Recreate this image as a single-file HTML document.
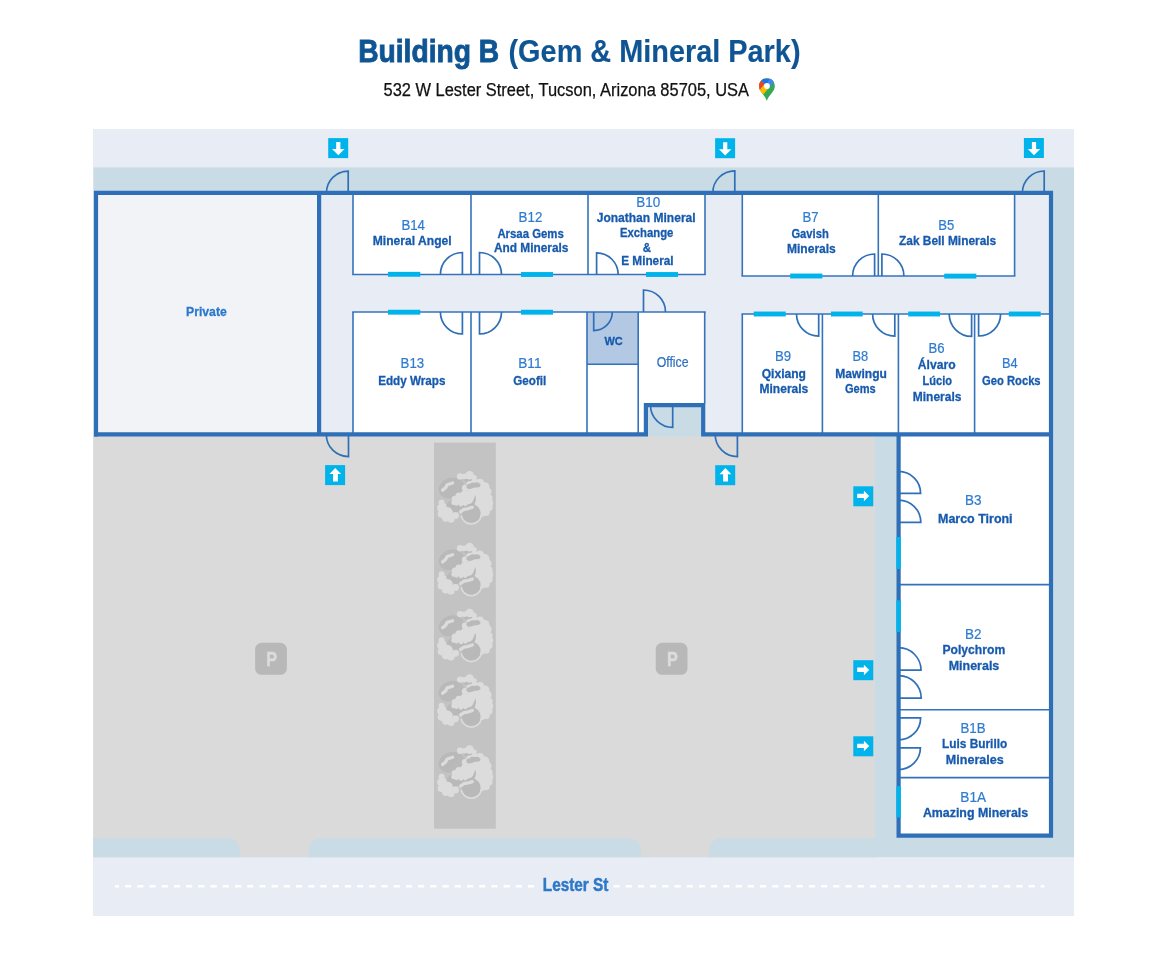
<!DOCTYPE html><html><head><meta charset="utf-8"><title>Building B</title><style>html,body{margin:0;padding:0;background:#fff;width:1150px;height:961px;overflow:hidden}svg{display:block;will-change:transform}text{font-family:"Liberation Sans",sans-serif}</style></head><body>
<svg width="1150" height="961" viewBox="0 0 1150 961">
<text x="358.2" y="61.9" font-size="32" font-weight="bold" fill="#0f5593" stroke="#0f5593" stroke-width="0.9" textLength="141" lengthAdjust="spacingAndGlyphs">Building B</text>
<text x="508.5" y="61.9" font-size="32" font-weight="bold" fill="#0f5593" stroke="#0f5593" stroke-width="0.15" textLength="292" lengthAdjust="spacingAndGlyphs">(Gem &amp; Mineral Park)</text>
<text x="383.5" y="96" font-size="17.5" fill="#111" stroke="#111" stroke-width="0.25" textLength="365.5" lengthAdjust="spacingAndGlyphs">532 W Lester Street, Tucson, Arizona 85705, USA</text>
<defs><clipPath id="pinclip"><path d="M7.9 0 C3.5 0 0 3.5 0 7.9 C0 10.9 1.4 12.9 3.1 15.1 C4.9 17.4 6.9 19.7 7.8 22.7 C8.8 19.7 10.8 17.4 12.6 15.1 C14.4 12.9 15.8 10.9 15.8 7.9 C15.8 3.5 12.3 0 7.9 0Z"/></clipPath></defs>
<g transform="translate(759,78.2)"><g clip-path="url(#pinclip)"><rect x="-1" y="-1" width="18" height="26" fill="#34a853"/><path d="M-1 22.2 L17 1.5 L17 -1 L-1 -1Z" fill="#fbbc04"/><path d="M-1 -0.7 L5.6 5.9 L-1 13.8Z" fill="#ea4335"/><path d="M-1 -0.7 L9.64 9.94 L17 1.5 L17 -1 L-1 -1Z" fill="#1a73e8"/><path d="M8 7.8 L9.64 9.94 L17 1.5 L17 -1 L10.5 -1Z" fill="#4285f4"/></g><circle cx="8" cy="7.8" r="2.9" fill="#fff"/></g>
<rect x="93" y="129" width="981" height="787" fill="#e8edf5"/>
<rect x="93.5" y="167.4" width="980.5" height="689.8" fill="#c9dbe5"/>
<rect x="93.5" y="436" width="781.5" height="421.2" fill="#dadada"/>
<path d="M93.5 857.2 V838.3 H227.6 A12 12 0 0 1 239.6 850.3 V857.2Z" fill="#c9dbe5"/>
<path d="M308.5 857.2 V850.3 A12 12 0 0 1 320.5 838.3 H629 A12 12 0 0 1 641 850.3 V857.2Z" fill="#c9dbe5"/>
<path d="M709.3 857.2 V850.3 A12 12 0 0 1 721.3 838.3 H875.5 V857.2Z" fill="#c9dbe5"/>
<line x1="115" y1="886.2" x2="1044.3" y2="886.2" stroke="#fff" stroke-width="2.6" stroke-dasharray="6.1 6.11" stroke-dashoffset="2.1"/>
<rect x="536" y="876" width="76" height="20" fill="#e8edf5"/>
<text x="542.8" y="891" font-size="17.5" font-weight="bold" fill="#2e78c8" stroke="#2e78c8" stroke-width="0.45" textLength="65.5" lengthAdjust="spacingAndGlyphs">Lester St</text>
<rect x="434" y="442.6" width="61.8" height="386.1" fill="#c3c3c3"/>
<g transform="translate(436.0,469.1)"><ellipse cx="15.4" cy="18.9" rx="13" ry="10.2" transform="rotate(-18 15.4 18.9)" fill="#b9b9b9"/><ellipse cx="25" cy="35" rx="14.5" ry="7.5" transform="rotate(-12 25 35)" fill="#b9b9b9"/><ellipse cx="34" cy="11" rx="6" ry="2.5" fill="#b9b9b9"/><circle cx="24.1" cy="7.3" r="3.2" fill="#dcdcdc"/><circle cx="28.6" cy="7.4" r="2.8" fill="#dcdcdc"/><circle cx="33.6" cy="6.2" r="4.3" fill="#dcdcdc"/><circle cx="38.2" cy="8.6" r="2.6" fill="#dcdcdc"/><circle cx="29.2" cy="19" r="3.4" fill="#dcdcdc"/><circle cx="33.8" cy="15.4" r="3.5" fill="#dcdcdc"/><circle cx="38.6" cy="13.8" r="3.8" fill="#dcdcdc"/><circle cx="44" cy="14" r="4.3" fill="#dcdcdc"/><circle cx="48.9" cy="17.7" r="4.5" fill="#dcdcdc"/><circle cx="51.2" cy="22.6" r="4.4" fill="#dcdcdc"/><circle cx="53" cy="29" r="3.6" fill="#dcdcdc"/><circle cx="53.6" cy="33.8" r="3.6" fill="#dcdcdc"/><circle cx="53" cy="38.6" r="3.6" fill="#dcdcdc"/><circle cx="50.2" cy="43.2" r="3.6" fill="#dcdcdc"/><circle cx="45.6" cy="44.6" r="3.2" fill="#dcdcdc"/><circle cx="5.6" cy="33.4" r="3" fill="#dcdcdc"/><circle cx="4.9" cy="38.8" r="3.8" fill="#dcdcdc"/><circle cx="5.5" cy="44.8" r="3.8" fill="#dcdcdc"/><circle cx="9.8" cy="48.8" r="3.8" fill="#dcdcdc"/><circle cx="15" cy="50" r="3.6" fill="#dcdcdc"/><circle cx="19.5" cy="46.5" r="3.4" fill="#dcdcdc"/><circle cx="11.2" cy="43.6" r="5.6" fill="#dcdcdc"/><circle cx="7.5" cy="37.5" r="3" fill="#dcdcdc"/><circle cx="18.9" cy="29.8" r="3.2" fill="#dcdcdc"/><circle cx="22.9" cy="27" r="3.5" fill="#dcdcdc"/><circle cx="28.4" cy="25" r="3.6" fill="#dcdcdc"/><circle cx="33.8" cy="24.4" r="3.6" fill="#dcdcdc"/><circle cx="38.4" cy="25.4" r="3" fill="#dcdcdc"/><circle cx="17.8" cy="33.4" r="2.5" fill="#dcdcdc"/><ellipse cx="41.5" cy="24" rx="10" ry="8.5" fill="#dcdcdc"/><ellipse cx="46" cy="34" rx="7.5" ry="10" fill="#dcdcdc"/><ellipse cx="27.5" cy="31" rx="10.5" ry="4.8" fill="#dcdcdc"/><circle cx="20.5" cy="34.5" r="2.2" fill="#dcdcdc"/><circle cx="25" cy="35.2" r="2.2" fill="#dcdcdc"/><circle cx="29.5" cy="34.8" r="2.2" fill="#dcdcdc"/><path d="M39.2 26 C40.8 29.5 40 33.5 37 37 L33.5 36.5 C36.8 33.5 38 30 39.2 26Z" fill="#b9b9b9"/><path d="M25.2 46.5 A10.3 10.3 0 0 0 45.4 46.5" fill="none" stroke="#dcdcdc" stroke-width="1.6"/><circle cx="35.3" cy="44.2" r="9.3" fill="#b9b9b9"/><path d="M30.5 18.5 C29.8 16.5 31.5 14.8 33.5 15 C34.5 13.6 36.8 13 38.4 13.8 C40.2 12.8 42.8 13.2 44 14.8 C45.2 16.4 44 18.2 42 18.2 C40 18.6 38.5 18.2 37 19 C35 20.2 31.8 20.4 30.5 18.5Z" fill="#b9b9b9"/><polyline points="6.6,21 9.6,18.6 11.2,15.6 16.6,13.9" fill="none" stroke="#dcdcdc" stroke-width="3.3" stroke-linecap="round" stroke-linejoin="round"/><polyline points="24.6,42.6 28,40.3 31.2,39.8 36.4,38.2" fill="none" stroke="#dcdcdc" stroke-width="3.2" stroke-linecap="round" stroke-linejoin="round"/></g>
<g transform="translate(436.0,540.9)"><ellipse cx="15.4" cy="18.9" rx="13" ry="10.2" transform="rotate(-18 15.4 18.9)" fill="#b9b9b9"/><ellipse cx="25" cy="35" rx="14.5" ry="7.5" transform="rotate(-12 25 35)" fill="#b9b9b9"/><ellipse cx="34" cy="11" rx="6" ry="2.5" fill="#b9b9b9"/><circle cx="24.1" cy="7.3" r="3.2" fill="#dcdcdc"/><circle cx="28.6" cy="7.4" r="2.8" fill="#dcdcdc"/><circle cx="33.6" cy="6.2" r="4.3" fill="#dcdcdc"/><circle cx="38.2" cy="8.6" r="2.6" fill="#dcdcdc"/><circle cx="29.2" cy="19" r="3.4" fill="#dcdcdc"/><circle cx="33.8" cy="15.4" r="3.5" fill="#dcdcdc"/><circle cx="38.6" cy="13.8" r="3.8" fill="#dcdcdc"/><circle cx="44" cy="14" r="4.3" fill="#dcdcdc"/><circle cx="48.9" cy="17.7" r="4.5" fill="#dcdcdc"/><circle cx="51.2" cy="22.6" r="4.4" fill="#dcdcdc"/><circle cx="53" cy="29" r="3.6" fill="#dcdcdc"/><circle cx="53.6" cy="33.8" r="3.6" fill="#dcdcdc"/><circle cx="53" cy="38.6" r="3.6" fill="#dcdcdc"/><circle cx="50.2" cy="43.2" r="3.6" fill="#dcdcdc"/><circle cx="45.6" cy="44.6" r="3.2" fill="#dcdcdc"/><circle cx="5.6" cy="33.4" r="3" fill="#dcdcdc"/><circle cx="4.9" cy="38.8" r="3.8" fill="#dcdcdc"/><circle cx="5.5" cy="44.8" r="3.8" fill="#dcdcdc"/><circle cx="9.8" cy="48.8" r="3.8" fill="#dcdcdc"/><circle cx="15" cy="50" r="3.6" fill="#dcdcdc"/><circle cx="19.5" cy="46.5" r="3.4" fill="#dcdcdc"/><circle cx="11.2" cy="43.6" r="5.6" fill="#dcdcdc"/><circle cx="7.5" cy="37.5" r="3" fill="#dcdcdc"/><circle cx="18.9" cy="29.8" r="3.2" fill="#dcdcdc"/><circle cx="22.9" cy="27" r="3.5" fill="#dcdcdc"/><circle cx="28.4" cy="25" r="3.6" fill="#dcdcdc"/><circle cx="33.8" cy="24.4" r="3.6" fill="#dcdcdc"/><circle cx="38.4" cy="25.4" r="3" fill="#dcdcdc"/><circle cx="17.8" cy="33.4" r="2.5" fill="#dcdcdc"/><ellipse cx="41.5" cy="24" rx="10" ry="8.5" fill="#dcdcdc"/><ellipse cx="46" cy="34" rx="7.5" ry="10" fill="#dcdcdc"/><ellipse cx="27.5" cy="31" rx="10.5" ry="4.8" fill="#dcdcdc"/><circle cx="20.5" cy="34.5" r="2.2" fill="#dcdcdc"/><circle cx="25" cy="35.2" r="2.2" fill="#dcdcdc"/><circle cx="29.5" cy="34.8" r="2.2" fill="#dcdcdc"/><path d="M39.2 26 C40.8 29.5 40 33.5 37 37 L33.5 36.5 C36.8 33.5 38 30 39.2 26Z" fill="#b9b9b9"/><path d="M25.2 46.5 A10.3 10.3 0 0 0 45.4 46.5" fill="none" stroke="#dcdcdc" stroke-width="1.6"/><circle cx="35.3" cy="44.2" r="9.3" fill="#b9b9b9"/><path d="M30.5 18.5 C29.8 16.5 31.5 14.8 33.5 15 C34.5 13.6 36.8 13 38.4 13.8 C40.2 12.8 42.8 13.2 44 14.8 C45.2 16.4 44 18.2 42 18.2 C40 18.6 38.5 18.2 37 19 C35 20.2 31.8 20.4 30.5 18.5Z" fill="#b9b9b9"/><polyline points="6.6,21 9.6,18.6 11.2,15.6 16.6,13.9" fill="none" stroke="#dcdcdc" stroke-width="3.3" stroke-linecap="round" stroke-linejoin="round"/><polyline points="24.6,42.6 28,40.3 31.2,39.8 36.4,38.2" fill="none" stroke="#dcdcdc" stroke-width="3.2" stroke-linecap="round" stroke-linejoin="round"/></g>
<g transform="translate(436.0,606.8)"><ellipse cx="15.4" cy="18.9" rx="13" ry="10.2" transform="rotate(-18 15.4 18.9)" fill="#b9b9b9"/><ellipse cx="25" cy="35" rx="14.5" ry="7.5" transform="rotate(-12 25 35)" fill="#b9b9b9"/><ellipse cx="34" cy="11" rx="6" ry="2.5" fill="#b9b9b9"/><circle cx="24.1" cy="7.3" r="3.2" fill="#dcdcdc"/><circle cx="28.6" cy="7.4" r="2.8" fill="#dcdcdc"/><circle cx="33.6" cy="6.2" r="4.3" fill="#dcdcdc"/><circle cx="38.2" cy="8.6" r="2.6" fill="#dcdcdc"/><circle cx="29.2" cy="19" r="3.4" fill="#dcdcdc"/><circle cx="33.8" cy="15.4" r="3.5" fill="#dcdcdc"/><circle cx="38.6" cy="13.8" r="3.8" fill="#dcdcdc"/><circle cx="44" cy="14" r="4.3" fill="#dcdcdc"/><circle cx="48.9" cy="17.7" r="4.5" fill="#dcdcdc"/><circle cx="51.2" cy="22.6" r="4.4" fill="#dcdcdc"/><circle cx="53" cy="29" r="3.6" fill="#dcdcdc"/><circle cx="53.6" cy="33.8" r="3.6" fill="#dcdcdc"/><circle cx="53" cy="38.6" r="3.6" fill="#dcdcdc"/><circle cx="50.2" cy="43.2" r="3.6" fill="#dcdcdc"/><circle cx="45.6" cy="44.6" r="3.2" fill="#dcdcdc"/><circle cx="5.6" cy="33.4" r="3" fill="#dcdcdc"/><circle cx="4.9" cy="38.8" r="3.8" fill="#dcdcdc"/><circle cx="5.5" cy="44.8" r="3.8" fill="#dcdcdc"/><circle cx="9.8" cy="48.8" r="3.8" fill="#dcdcdc"/><circle cx="15" cy="50" r="3.6" fill="#dcdcdc"/><circle cx="19.5" cy="46.5" r="3.4" fill="#dcdcdc"/><circle cx="11.2" cy="43.6" r="5.6" fill="#dcdcdc"/><circle cx="7.5" cy="37.5" r="3" fill="#dcdcdc"/><circle cx="18.9" cy="29.8" r="3.2" fill="#dcdcdc"/><circle cx="22.9" cy="27" r="3.5" fill="#dcdcdc"/><circle cx="28.4" cy="25" r="3.6" fill="#dcdcdc"/><circle cx="33.8" cy="24.4" r="3.6" fill="#dcdcdc"/><circle cx="38.4" cy="25.4" r="3" fill="#dcdcdc"/><circle cx="17.8" cy="33.4" r="2.5" fill="#dcdcdc"/><ellipse cx="41.5" cy="24" rx="10" ry="8.5" fill="#dcdcdc"/><ellipse cx="46" cy="34" rx="7.5" ry="10" fill="#dcdcdc"/><ellipse cx="27.5" cy="31" rx="10.5" ry="4.8" fill="#dcdcdc"/><circle cx="20.5" cy="34.5" r="2.2" fill="#dcdcdc"/><circle cx="25" cy="35.2" r="2.2" fill="#dcdcdc"/><circle cx="29.5" cy="34.8" r="2.2" fill="#dcdcdc"/><path d="M39.2 26 C40.8 29.5 40 33.5 37 37 L33.5 36.5 C36.8 33.5 38 30 39.2 26Z" fill="#b9b9b9"/><path d="M25.2 46.5 A10.3 10.3 0 0 0 45.4 46.5" fill="none" stroke="#dcdcdc" stroke-width="1.6"/><circle cx="35.3" cy="44.2" r="9.3" fill="#b9b9b9"/><path d="M30.5 18.5 C29.8 16.5 31.5 14.8 33.5 15 C34.5 13.6 36.8 13 38.4 13.8 C40.2 12.8 42.8 13.2 44 14.8 C45.2 16.4 44 18.2 42 18.2 C40 18.6 38.5 18.2 37 19 C35 20.2 31.8 20.4 30.5 18.5Z" fill="#b9b9b9"/><polyline points="6.6,21 9.6,18.6 11.2,15.6 16.6,13.9" fill="none" stroke="#dcdcdc" stroke-width="3.3" stroke-linecap="round" stroke-linejoin="round"/><polyline points="24.6,42.6 28,40.3 31.2,39.8 36.4,38.2" fill="none" stroke="#dcdcdc" stroke-width="3.2" stroke-linecap="round" stroke-linejoin="round"/></g>
<g transform="translate(436.0,672.3)"><ellipse cx="15.4" cy="18.9" rx="13" ry="10.2" transform="rotate(-18 15.4 18.9)" fill="#b9b9b9"/><ellipse cx="25" cy="35" rx="14.5" ry="7.5" transform="rotate(-12 25 35)" fill="#b9b9b9"/><ellipse cx="34" cy="11" rx="6" ry="2.5" fill="#b9b9b9"/><circle cx="24.1" cy="7.3" r="3.2" fill="#dcdcdc"/><circle cx="28.6" cy="7.4" r="2.8" fill="#dcdcdc"/><circle cx="33.6" cy="6.2" r="4.3" fill="#dcdcdc"/><circle cx="38.2" cy="8.6" r="2.6" fill="#dcdcdc"/><circle cx="29.2" cy="19" r="3.4" fill="#dcdcdc"/><circle cx="33.8" cy="15.4" r="3.5" fill="#dcdcdc"/><circle cx="38.6" cy="13.8" r="3.8" fill="#dcdcdc"/><circle cx="44" cy="14" r="4.3" fill="#dcdcdc"/><circle cx="48.9" cy="17.7" r="4.5" fill="#dcdcdc"/><circle cx="51.2" cy="22.6" r="4.4" fill="#dcdcdc"/><circle cx="53" cy="29" r="3.6" fill="#dcdcdc"/><circle cx="53.6" cy="33.8" r="3.6" fill="#dcdcdc"/><circle cx="53" cy="38.6" r="3.6" fill="#dcdcdc"/><circle cx="50.2" cy="43.2" r="3.6" fill="#dcdcdc"/><circle cx="45.6" cy="44.6" r="3.2" fill="#dcdcdc"/><circle cx="5.6" cy="33.4" r="3" fill="#dcdcdc"/><circle cx="4.9" cy="38.8" r="3.8" fill="#dcdcdc"/><circle cx="5.5" cy="44.8" r="3.8" fill="#dcdcdc"/><circle cx="9.8" cy="48.8" r="3.8" fill="#dcdcdc"/><circle cx="15" cy="50" r="3.6" fill="#dcdcdc"/><circle cx="19.5" cy="46.5" r="3.4" fill="#dcdcdc"/><circle cx="11.2" cy="43.6" r="5.6" fill="#dcdcdc"/><circle cx="7.5" cy="37.5" r="3" fill="#dcdcdc"/><circle cx="18.9" cy="29.8" r="3.2" fill="#dcdcdc"/><circle cx="22.9" cy="27" r="3.5" fill="#dcdcdc"/><circle cx="28.4" cy="25" r="3.6" fill="#dcdcdc"/><circle cx="33.8" cy="24.4" r="3.6" fill="#dcdcdc"/><circle cx="38.4" cy="25.4" r="3" fill="#dcdcdc"/><circle cx="17.8" cy="33.4" r="2.5" fill="#dcdcdc"/><ellipse cx="41.5" cy="24" rx="10" ry="8.5" fill="#dcdcdc"/><ellipse cx="46" cy="34" rx="7.5" ry="10" fill="#dcdcdc"/><ellipse cx="27.5" cy="31" rx="10.5" ry="4.8" fill="#dcdcdc"/><circle cx="20.5" cy="34.5" r="2.2" fill="#dcdcdc"/><circle cx="25" cy="35.2" r="2.2" fill="#dcdcdc"/><circle cx="29.5" cy="34.8" r="2.2" fill="#dcdcdc"/><path d="M39.2 26 C40.8 29.5 40 33.5 37 37 L33.5 36.5 C36.8 33.5 38 30 39.2 26Z" fill="#b9b9b9"/><path d="M25.2 46.5 A10.3 10.3 0 0 0 45.4 46.5" fill="none" stroke="#dcdcdc" stroke-width="1.6"/><circle cx="35.3" cy="44.2" r="9.3" fill="#b9b9b9"/><path d="M30.5 18.5 C29.8 16.5 31.5 14.8 33.5 15 C34.5 13.6 36.8 13 38.4 13.8 C40.2 12.8 42.8 13.2 44 14.8 C45.2 16.4 44 18.2 42 18.2 C40 18.6 38.5 18.2 37 19 C35 20.2 31.8 20.4 30.5 18.5Z" fill="#b9b9b9"/><polyline points="6.6,21 9.6,18.6 11.2,15.6 16.6,13.9" fill="none" stroke="#dcdcdc" stroke-width="3.3" stroke-linecap="round" stroke-linejoin="round"/><polyline points="24.6,42.6 28,40.3 31.2,39.8 36.4,38.2" fill="none" stroke="#dcdcdc" stroke-width="3.2" stroke-linecap="round" stroke-linejoin="round"/></g>
<g transform="translate(436.0,743.4)"><ellipse cx="15.4" cy="18.9" rx="13" ry="10.2" transform="rotate(-18 15.4 18.9)" fill="#b9b9b9"/><ellipse cx="25" cy="35" rx="14.5" ry="7.5" transform="rotate(-12 25 35)" fill="#b9b9b9"/><ellipse cx="34" cy="11" rx="6" ry="2.5" fill="#b9b9b9"/><circle cx="24.1" cy="7.3" r="3.2" fill="#dcdcdc"/><circle cx="28.6" cy="7.4" r="2.8" fill="#dcdcdc"/><circle cx="33.6" cy="6.2" r="4.3" fill="#dcdcdc"/><circle cx="38.2" cy="8.6" r="2.6" fill="#dcdcdc"/><circle cx="29.2" cy="19" r="3.4" fill="#dcdcdc"/><circle cx="33.8" cy="15.4" r="3.5" fill="#dcdcdc"/><circle cx="38.6" cy="13.8" r="3.8" fill="#dcdcdc"/><circle cx="44" cy="14" r="4.3" fill="#dcdcdc"/><circle cx="48.9" cy="17.7" r="4.5" fill="#dcdcdc"/><circle cx="51.2" cy="22.6" r="4.4" fill="#dcdcdc"/><circle cx="53" cy="29" r="3.6" fill="#dcdcdc"/><circle cx="53.6" cy="33.8" r="3.6" fill="#dcdcdc"/><circle cx="53" cy="38.6" r="3.6" fill="#dcdcdc"/><circle cx="50.2" cy="43.2" r="3.6" fill="#dcdcdc"/><circle cx="45.6" cy="44.6" r="3.2" fill="#dcdcdc"/><circle cx="5.6" cy="33.4" r="3" fill="#dcdcdc"/><circle cx="4.9" cy="38.8" r="3.8" fill="#dcdcdc"/><circle cx="5.5" cy="44.8" r="3.8" fill="#dcdcdc"/><circle cx="9.8" cy="48.8" r="3.8" fill="#dcdcdc"/><circle cx="15" cy="50" r="3.6" fill="#dcdcdc"/><circle cx="19.5" cy="46.5" r="3.4" fill="#dcdcdc"/><circle cx="11.2" cy="43.6" r="5.6" fill="#dcdcdc"/><circle cx="7.5" cy="37.5" r="3" fill="#dcdcdc"/><circle cx="18.9" cy="29.8" r="3.2" fill="#dcdcdc"/><circle cx="22.9" cy="27" r="3.5" fill="#dcdcdc"/><circle cx="28.4" cy="25" r="3.6" fill="#dcdcdc"/><circle cx="33.8" cy="24.4" r="3.6" fill="#dcdcdc"/><circle cx="38.4" cy="25.4" r="3" fill="#dcdcdc"/><circle cx="17.8" cy="33.4" r="2.5" fill="#dcdcdc"/><ellipse cx="41.5" cy="24" rx="10" ry="8.5" fill="#dcdcdc"/><ellipse cx="46" cy="34" rx="7.5" ry="10" fill="#dcdcdc"/><ellipse cx="27.5" cy="31" rx="10.5" ry="4.8" fill="#dcdcdc"/><circle cx="20.5" cy="34.5" r="2.2" fill="#dcdcdc"/><circle cx="25" cy="35.2" r="2.2" fill="#dcdcdc"/><circle cx="29.5" cy="34.8" r="2.2" fill="#dcdcdc"/><path d="M39.2 26 C40.8 29.5 40 33.5 37 37 L33.5 36.5 C36.8 33.5 38 30 39.2 26Z" fill="#b9b9b9"/><path d="M25.2 46.5 A10.3 10.3 0 0 0 45.4 46.5" fill="none" stroke="#dcdcdc" stroke-width="1.6"/><circle cx="35.3" cy="44.2" r="9.3" fill="#b9b9b9"/><path d="M30.5 18.5 C29.8 16.5 31.5 14.8 33.5 15 C34.5 13.6 36.8 13 38.4 13.8 C40.2 12.8 42.8 13.2 44 14.8 C45.2 16.4 44 18.2 42 18.2 C40 18.6 38.5 18.2 37 19 C35 20.2 31.8 20.4 30.5 18.5Z" fill="#b9b9b9"/><polyline points="6.6,21 9.6,18.6 11.2,15.6 16.6,13.9" fill="none" stroke="#dcdcdc" stroke-width="3.3" stroke-linecap="round" stroke-linejoin="round"/><polyline points="24.6,42.6 28,40.3 31.2,39.8 36.4,38.2" fill="none" stroke="#dcdcdc" stroke-width="3.2" stroke-linecap="round" stroke-linejoin="round"/></g>
<rect x="255.1" y="642.8" width="31.8" height="32" rx="6.5" fill="#b8b8b8"/>
<text x="266.3" y="666.3" font-size="20.5" font-weight="bold" fill="#dcdcdc" stroke="#dcdcdc" stroke-width="0.5" textLength="10.8" lengthAdjust="spacingAndGlyphs">P</text>
<rect x="655.7" y="642.8" width="31.8" height="32" rx="6.5" fill="#b8b8b8"/>
<text x="666.9000000000001" y="666.3" font-size="20.5" font-weight="bold" fill="#dcdcdc" stroke="#dcdcdc" stroke-width="0.5" textLength="10.8" lengthAdjust="spacingAndGlyphs">P</text>
<rect x="96" y="192.8" width="955" height="241.6" fill="#e8edf5"/>
<rect x="96" y="192.8" width="223" height="241.6" fill="#f2f3f6"/>
<rect x="353" y="192.8" width="352" height="81.69999999999999" fill="#fff"/>
<rect x="353" y="312" width="352" height="122.39999999999998" fill="#fff"/>
<rect x="742.3" y="192.8" width="272.30000000000007" height="83.19999999999999" fill="#fff"/>
<rect x="742.3" y="314.0" width="308.70000000000005" height="120.39999999999998" fill="#fff"/>
<rect x="898.6" y="434.4" width="152.39999999999998" height="401.20000000000005" fill="#fff"/>
<rect x="587" y="312" width="51.2" height="52.3" fill="#b3c8e3"/>
<rect x="645.9" y="405.2" width="57.3" height="31.3" fill="#c9dbe5"/>
<line x1="353" y1="192.8" x2="353" y2="274.5" stroke="#3473bb" stroke-width="1.6"/>
<line x1="352.2" y1="274.5" x2="705.8" y2="274.5" stroke="#3473bb" stroke-width="1.6"/>
<line x1="471" y1="192.8" x2="471" y2="274.5" stroke="#3473bb" stroke-width="1.6"/>
<line x1="588" y1="192.8" x2="588" y2="274.5" stroke="#3473bb" stroke-width="1.6"/>
<line x1="705" y1="192.8" x2="705" y2="274.5" stroke="#3473bb" stroke-width="1.6"/>
<line x1="352.2" y1="312" x2="705.8" y2="312" stroke="#3473bb" stroke-width="1.6"/>
<line x1="353" y1="312" x2="353" y2="434.4" stroke="#3473bb" stroke-width="1.6"/>
<line x1="471" y1="312" x2="471" y2="434.4" stroke="#3473bb" stroke-width="1.6"/>
<line x1="587" y1="312" x2="587" y2="434.4" stroke="#3473bb" stroke-width="1.6"/>
<line x1="638.2" y1="312" x2="638.2" y2="434.4" stroke="#3473bb" stroke-width="1.6"/>
<line x1="587" y1="364.3" x2="638.2" y2="364.3" stroke="#3473bb" stroke-width="1.6"/>
<line x1="704.7" y1="312" x2="704.7" y2="403.5" stroke="#3473bb" stroke-width="1.6"/>
<line x1="742.3" y1="192.8" x2="742.3" y2="276.0" stroke="#3473bb" stroke-width="1.6"/>
<line x1="741.5" y1="276.0" x2="1015.4" y2="276.0" stroke="#3473bb" stroke-width="1.6"/>
<line x1="878.3" y1="192.8" x2="878.3" y2="276.0" stroke="#3473bb" stroke-width="1.6"/>
<line x1="1014.6" y1="192.8" x2="1014.6" y2="276.0" stroke="#3473bb" stroke-width="1.6"/>
<line x1="741.5" y1="314.0" x2="1051" y2="314.0" stroke="#3473bb" stroke-width="1.6"/>
<line x1="742.3" y1="314.0" x2="742.3" y2="434.4" stroke="#3473bb" stroke-width="1.6"/>
<line x1="822.4" y1="314.0" x2="822.4" y2="434.4" stroke="#3473bb" stroke-width="1.6"/>
<line x1="898.4" y1="314.0" x2="898.4" y2="434.4" stroke="#3473bb" stroke-width="1.6"/>
<line x1="974.6" y1="314.0" x2="974.6" y2="434.4" stroke="#3473bb" stroke-width="1.6"/>
<line x1="898.6" y1="584.6" x2="1051" y2="584.6" stroke="#3473bb" stroke-width="1.6"/>
<line x1="898.6" y1="709.8" x2="1051" y2="709.8" stroke="#3473bb" stroke-width="1.6"/>
<line x1="898.6" y1="777.6" x2="1051" y2="777.6" stroke="#3473bb" stroke-width="1.6"/>
<path d="M96 436.5 V192.8 H1051 V835.6 H898.6 V434.4" fill="none" stroke="#2f6fb8" stroke-width="4.2" stroke-linejoin="miter"/>
<path d="M94 434.4 H645.9 V405.2 H703.2 V434.4 H1053" fill="none" stroke="#2f6fb8" stroke-width="4.2" stroke-linejoin="miter"/>
<line x1="319.1" y1="192.8" x2="319.1" y2="434.4" stroke="#2f6fb8" stroke-width="4.2"/>
<rect x="388" y="271.85" width="32.30000000000001" height="4.9" fill="#00b4eb"/>
<rect x="521" y="272.05" width="32" height="4.9" fill="#00b4eb"/>
<rect x="646" y="272.05" width="32" height="4.9" fill="#00b4eb"/>
<rect x="388" y="309.75" width="32.30000000000001" height="4.9" fill="#00b4eb"/>
<rect x="521" y="309.75" width="32" height="4.9" fill="#00b4eb"/>
<rect x="790.2" y="273.55" width="32.19999999999993" height="4.9" fill="#00b4eb"/>
<rect x="944.2" y="273.65000000000003" width="32.09999999999991" height="4.9" fill="#00b4eb"/>
<rect x="753.7" y="311.55" width="32.0" height="4.9" fill="#00b4eb"/>
<rect x="831" y="311.55" width="31.700000000000045" height="4.9" fill="#00b4eb"/>
<rect x="908.2" y="311.55" width="31.799999999999955" height="4.9" fill="#00b4eb"/>
<rect x="1008.8" y="311.55" width="31.90000000000009" height="4.9" fill="#00b4eb"/>
<rect x="896.4" y="537" width="4.4" height="32" fill="#00b4eb"/>
<rect x="896.4" y="600.3" width="4.4" height="31.800000000000068" fill="#00b4eb"/>
<rect x="896.4" y="786" width="4.4" height="31.399999999999977" fill="#00b4eb"/>
<path d="M348.2 192.8 V171.10000000000002 A21.7 21.7 0 0 0 326.5 192.8" fill="none" stroke="#2f6fb8" stroke-width="1.7"/>
<path d="M734.8 192.8 V170.8 A22 22 0 0 0 712.8 192.8" fill="none" stroke="#2f6fb8" stroke-width="1.7"/>
<path d="M1044.2 192.8 V171.0 A21.8 21.8 0 0 0 1022.4000000000001 192.8" fill="none" stroke="#2f6fb8" stroke-width="1.7"/>
<path d="M348.5 434.4 V456.59999999999997 A22.2 22.2 0 0 1 326.3 434.4" fill="none" stroke="#2f6fb8" stroke-width="1.7"/>
<path d="M737.4 434.4 V456.59999999999997 A22.2 22.2 0 0 1 715.1999999999999 434.4" fill="none" stroke="#2f6fb8" stroke-width="1.7"/>
<path d="M672.7 405.2 V427.4 A22.2 22.2 0 0 1 650.5 405.2" fill="none" stroke="#2f6fb8" stroke-width="1.7"/>
<path d="M462.4 274.5 V252.5 A22 22 0 0 0 440.4 274.5" fill="none" stroke="#2f6fb8" stroke-width="1.7"/>
<path d="M479.5 274.5 V252.5 A22 22 0 0 1 501.5 274.5" fill="none" stroke="#2f6fb8" stroke-width="1.7"/>
<path d="M596.6 274.5 V252.9 A21.6 21.6 0 0 1 618.2 274.5" fill="none" stroke="#2f6fb8" stroke-width="1.7"/>
<path d="M874.6 276.0 V254.0 A22 22 0 0 0 852.6 276.0" fill="none" stroke="#2f6fb8" stroke-width="1.7"/>
<path d="M881.9 276.0 V254.0 A22 22 0 0 1 903.9 276.0" fill="none" stroke="#2f6fb8" stroke-width="1.7"/>
<path d="M462.4 312 V334 A22 22 0 0 1 440.4 312" fill="none" stroke="#2f6fb8" stroke-width="1.7"/>
<path d="M479.5 312 V334 A22 22 0 0 0 501.5 312" fill="none" stroke="#2f6fb8" stroke-width="1.7"/>
<path d="M593.7 312 V330.6 A18.6 18.6 0 0 0 612.3000000000001 312" fill="none" stroke="#2f6fb8" stroke-width="1.7"/>
<path d="M643.5 312 V290 A22 22 0 0 1 665.5 312" fill="none" stroke="#2f6fb8" stroke-width="1.7"/>
<path d="M818.7 314.0 V336.2 A22.2 22.2 0 0 1 796.5 314.0" fill="none" stroke="#2f6fb8" stroke-width="1.7"/>
<path d="M894.8 314.0 V336.2 A22.2 22.2 0 0 1 872.5999999999999 314.0" fill="none" stroke="#2f6fb8" stroke-width="1.7"/>
<path d="M971.6 314.0 V336.4 A22.4 22.4 0 0 1 949.2 314.0" fill="none" stroke="#2f6fb8" stroke-width="1.7"/>
<path d="M978.6 314.0 V336.0 A22 22 0 0 0 1000.6 314.0" fill="none" stroke="#2f6fb8" stroke-width="1.7"/>
<path d="M898.6 493.4 H920.6 A22 22 0 0 0 898.6 471.4" fill="none" stroke="#2f6fb8" stroke-width="1.7"/>
<path d="M898.6 522.4 H920.8000000000001 A22.2 22.2 0 0 0 898.6 500.2" fill="none" stroke="#2f6fb8" stroke-width="1.7"/>
<path d="M898.6 670.1 H921.0 A22.4 22.4 0 0 0 898.6 647.7" fill="none" stroke="#2f6fb8" stroke-width="1.7"/>
<path d="M898.6 698.2 H921.2 A22.6 22.6 0 0 0 898.6 675.6" fill="none" stroke="#2f6fb8" stroke-width="1.7"/>
<path d="M898.6 717.9 H920.6 A22 22 0 0 1 898.6 739.9" fill="none" stroke="#2f6fb8" stroke-width="1.7"/>
<path d="M898.6 747.8 H920.4 A21.8 21.8 0 0 1 898.6 769.5999999999999" fill="none" stroke="#2f6fb8" stroke-width="1.7"/>
<g transform="translate(328.2,138.1)"><rect width="20" height="20" fill="#00b4eb"/><path d="M8 4 H12.2 V11 H16.3 L10.1 17.2 L3.9 11 H8Z" fill="#fff"/></g>
<g transform="translate(715.1,138.2)"><rect width="20" height="20" fill="#00b4eb"/><path d="M8 4 H12.2 V11 H16.3 L10.1 17.2 L3.9 11 H8Z" fill="#fff"/></g>
<g transform="translate(1023.9,138)"><rect width="20" height="20" fill="#00b4eb"/><path d="M8 4 H12.2 V11 H16.3 L10.1 17.2 L3.9 11 H8Z" fill="#fff"/></g>
<g transform="translate(325.1,465.1)"><rect width="20" height="20" fill="#00b4eb"/><path d="M7.9 16.3 V9 H4.3 L10.2 2.9 L16.1 9 H12.8 V16.3Z" fill="#fff"/></g>
<g transform="translate(715.2,465.2)"><rect width="20" height="20" fill="#00b4eb"/><path d="M7.9 16.3 V9 H4.3 L10.2 2.9 L16.1 9 H12.8 V16.3Z" fill="#fff"/></g>
<g transform="translate(853.3,486.3)"><rect width="20" height="20" fill="#00b4eb"/><path d="M3.86 7.4 H10.6 V4.45 L15.9 9.7 L10.6 14.95 V11.75 H3.86Z" fill="#fff"/></g>
<g transform="translate(853.3,660.2)"><rect width="20" height="20" fill="#00b4eb"/><path d="M3.86 7.4 H10.6 V4.45 L15.9 9.7 L10.6 14.95 V11.75 H3.86Z" fill="#fff"/></g>
<g transform="translate(853.3,736.3)"><rect width="20" height="20" fill="#00b4eb"/><path d="M3.86 7.4 H10.6 V4.45 L15.9 9.7 L10.6 14.95 V11.75 H3.86Z" fill="#fff"/></g>
<text x="186" y="315.8" font-size="13.5" font-weight="bold" fill="#2a78ce" stroke="#2a78ce" stroke-width="0.3" textLength="40.80000000000001" lengthAdjust="spacingAndGlyphs">Private</text>
<text x="401.4" y="230" font-size="14" font-weight="normal" fill="#2f7bd0" stroke="#2f7bd0" stroke-width="0.2" textLength="23.600000000000023" lengthAdjust="spacingAndGlyphs">B14</text>
<text x="372.8" y="244.8" font-size="13.2" font-weight="bold" fill="#175aad" stroke="#175aad" stroke-width="0.3" textLength="78.80000000000001" lengthAdjust="spacingAndGlyphs">Mineral Angel</text>
<text x="518.6" y="222.3" font-size="14" font-weight="normal" fill="#2f7bd0" stroke="#2f7bd0" stroke-width="0.2" textLength="23.799999999999955" lengthAdjust="spacingAndGlyphs">B12</text>
<text x="497.4" y="237.5" font-size="13.2" font-weight="bold" fill="#175aad" stroke="#175aad" stroke-width="0.3" textLength="66.39999999999998" lengthAdjust="spacingAndGlyphs">Arsaa Gems</text>
<text x="493.9" y="252.3" font-size="13.2" font-weight="bold" fill="#175aad" stroke="#175aad" stroke-width="0.3" textLength="74.5" lengthAdjust="spacingAndGlyphs">And Minerals</text>
<text x="636.1999999999999" y="207.1" font-size="14" font-weight="normal" fill="#2f7bd0" stroke="#2f7bd0" stroke-width="0.2" textLength="24.0" lengthAdjust="spacingAndGlyphs">B10</text>
<text x="596.7" y="221.7" font-size="13.2" font-weight="bold" fill="#175aad" stroke="#175aad" stroke-width="0.3" textLength="98.89999999999998" lengthAdjust="spacingAndGlyphs">Jonathan Mineral</text>
<text x="620" y="237.4" font-size="13.2" font-weight="bold" fill="#175aad" stroke="#175aad" stroke-width="0.3" textLength="53.39999999999998" lengthAdjust="spacingAndGlyphs">Exchange</text>
<text x="642.8" y="251.9" font-size="13.2" font-weight="bold" fill="#175aad" stroke="#175aad" stroke-width="0.3" textLength="8.300000000000068" lengthAdjust="spacingAndGlyphs">&amp;</text>
<text x="621.2" y="265.4" font-size="13.2" font-weight="bold" fill="#175aad" stroke="#175aad" stroke-width="0.3" textLength="52.39999999999998" lengthAdjust="spacingAndGlyphs">E Mineral</text>
<text x="802.4" y="222.3" font-size="14" font-weight="normal" fill="#2f7bd0" stroke="#2f7bd0" stroke-width="0.2" textLength="16.100000000000023" lengthAdjust="spacingAndGlyphs">B7</text>
<text x="791.4" y="237.5" font-size="13.2" font-weight="bold" fill="#175aad" stroke="#175aad" stroke-width="0.3" textLength="37.39999999999998" lengthAdjust="spacingAndGlyphs">Gavish</text>
<text x="787" y="252.7" font-size="13.2" font-weight="bold" fill="#175aad" stroke="#175aad" stroke-width="0.3" textLength="48.799999999999955" lengthAdjust="spacingAndGlyphs">Minerals</text>
<text x="938.3" y="229.7" font-size="14" font-weight="normal" fill="#2f7bd0" stroke="#2f7bd0" stroke-width="0.2" textLength="16.0" lengthAdjust="spacingAndGlyphs">B5</text>
<text x="899" y="244.9" font-size="13.2" font-weight="bold" fill="#175aad" stroke="#175aad" stroke-width="0.3" textLength="97.20000000000005" lengthAdjust="spacingAndGlyphs">Zak Bell Minerals</text>
<text x="400.59999999999997" y="368.2" font-size="14" font-weight="normal" fill="#2f7bd0" stroke="#2f7bd0" stroke-width="0.2" textLength="23.600000000000023" lengthAdjust="spacingAndGlyphs">B13</text>
<text x="378.2" y="384.8" font-size="13.2" font-weight="bold" fill="#175aad" stroke="#175aad" stroke-width="0.3" textLength="67.19999999999999" lengthAdjust="spacingAndGlyphs">Eddy Wraps</text>
<text x="518.3" y="368.2" font-size="14" font-weight="normal" fill="#2f7bd0" stroke="#2f7bd0" stroke-width="0.2" textLength="23.200000000000045" lengthAdjust="spacingAndGlyphs">B11</text>
<text x="513.3" y="384.8" font-size="13.2" font-weight="bold" fill="#175aad" stroke="#175aad" stroke-width="0.3" textLength="33.0" lengthAdjust="spacingAndGlyphs">Geofil</text>
<text x="604.4" y="345.3" font-size="11.8" font-weight="bold" fill="#175aad" stroke="#175aad" stroke-width="0.3" textLength="18.300000000000068" lengthAdjust="spacingAndGlyphs">WC</text>
<text x="656.7" y="366.7" font-size="14" font-weight="normal" fill="#2d6fbd" stroke="#2d6fbd" stroke-width="0.2" textLength="31.899999999999977" lengthAdjust="spacingAndGlyphs">Office</text>
<text x="774.9" y="360.5" font-size="14" font-weight="normal" fill="#2f7bd0" stroke="#2f7bd0" stroke-width="0.2" textLength="16.100000000000023" lengthAdjust="spacingAndGlyphs">B9</text>
<text x="761.7" y="377.8" font-size="13.2" font-weight="bold" fill="#175aad" stroke="#175aad" stroke-width="0.3" textLength="44.299999999999955" lengthAdjust="spacingAndGlyphs">Qixiang</text>
<text x="759.5" y="392.6" font-size="13.2" font-weight="bold" fill="#175aad" stroke="#175aad" stroke-width="0.3" textLength="48.799999999999955" lengthAdjust="spacingAndGlyphs">Minerals</text>
<text x="852.4" y="360.5" font-size="14" font-weight="normal" fill="#2f7bd0" stroke="#2f7bd0" stroke-width="0.2" textLength="15.700000000000045" lengthAdjust="spacingAndGlyphs">B8</text>
<text x="835.3" y="377.8" font-size="13.2" font-weight="bold" fill="#175aad" stroke="#175aad" stroke-width="0.3" textLength="51.60000000000002" lengthAdjust="spacingAndGlyphs">Mawingu</text>
<text x="845" y="392.6" font-size="13.2" font-weight="bold" fill="#175aad" stroke="#175aad" stroke-width="0.3" textLength="30.700000000000045" lengthAdjust="spacingAndGlyphs">Gems</text>
<text x="928.6" y="353.1" font-size="14" font-weight="normal" fill="#2f7bd0" stroke="#2f7bd0" stroke-width="0.2" textLength="16.09999999999991" lengthAdjust="spacingAndGlyphs">B6</text>
<text x="917.8" y="369.3" font-size="13.2" font-weight="bold" fill="#175aad" stroke="#175aad" stroke-width="0.3" textLength="37.80000000000007" lengthAdjust="spacingAndGlyphs">&#193;lvaro</text>
<text x="922.5" y="384.8" font-size="13.2" font-weight="bold" fill="#175aad" stroke="#175aad" stroke-width="0.3" textLength="29.5" lengthAdjust="spacingAndGlyphs">L&#250;cio</text>
<text x="912.8" y="400.9" font-size="13.2" font-weight="bold" fill="#175aad" stroke="#175aad" stroke-width="0.3" textLength="48.60000000000002" lengthAdjust="spacingAndGlyphs">Minerals</text>
<text x="1002.0" y="367.9" font-size="14" font-weight="normal" fill="#2f7bd0" stroke="#2f7bd0" stroke-width="0.2" textLength="15.699999999999932" lengthAdjust="spacingAndGlyphs">B4</text>
<text x="982.1" y="384.8" font-size="13.2" font-weight="bold" fill="#175aad" stroke="#175aad" stroke-width="0.3" textLength="58.499999999999886" lengthAdjust="spacingAndGlyphs">Geo Rocks</text>
<text x="964.9" y="505.3" font-size="14" font-weight="normal" fill="#2f7bd0" stroke="#2f7bd0" stroke-width="0.2" textLength="16.5" lengthAdjust="spacingAndGlyphs">B3</text>
<text x="938" y="522.8" font-size="13.2" font-weight="bold" fill="#175aad" stroke="#175aad" stroke-width="0.3" textLength="74.60000000000002" lengthAdjust="spacingAndGlyphs">Marco Tironi</text>
<text x="964.9" y="639" font-size="14" font-weight="normal" fill="#2f7bd0" stroke="#2f7bd0" stroke-width="0.2" textLength="16.5" lengthAdjust="spacingAndGlyphs">B2</text>
<text x="942.4" y="654.3" font-size="13.2" font-weight="bold" fill="#175aad" stroke="#175aad" stroke-width="0.3" textLength="62.80000000000007" lengthAdjust="spacingAndGlyphs">Polychrom</text>
<text x="948.7" y="669.6" font-size="13.2" font-weight="bold" fill="#175aad" stroke="#175aad" stroke-width="0.3" textLength="50.59999999999991" lengthAdjust="spacingAndGlyphs">Minerals</text>
<text x="960.5" y="732.8" font-size="14" font-weight="normal" fill="#2f7bd0" stroke="#2f7bd0" stroke-width="0.2" textLength="25.100000000000023" lengthAdjust="spacingAndGlyphs">B1B</text>
<text x="942.1" y="747.9" font-size="13.2" font-weight="bold" fill="#175aad" stroke="#175aad" stroke-width="0.3" textLength="65.10000000000002" lengthAdjust="spacingAndGlyphs">Luis Burillo</text>
<text x="945.8" y="763.9" font-size="13.2" font-weight="bold" fill="#175aad" stroke="#175aad" stroke-width="0.3" textLength="57.90000000000009" lengthAdjust="spacingAndGlyphs">Minerales</text>
<text x="960.3" y="802.3" font-size="14" font-weight="normal" fill="#2f7bd0" stroke="#2f7bd0" stroke-width="0.2" textLength="25.800000000000068" lengthAdjust="spacingAndGlyphs">B1A</text>
<text x="922.9" y="817.3" font-size="13.2" font-weight="bold" fill="#175aad" stroke="#175aad" stroke-width="0.3" textLength="105.19999999999993" lengthAdjust="spacingAndGlyphs">Amazing Minerals</text>
</svg></body></html>
